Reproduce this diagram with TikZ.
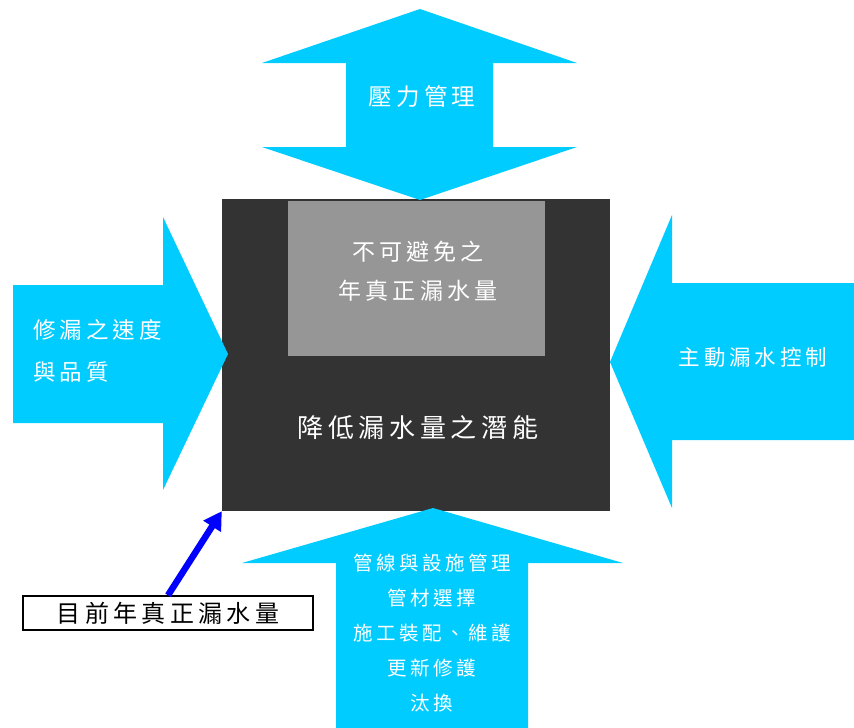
\documentclass[tikz,border=0pt]{standalone}
\usepackage{fontspec}
\newfontfamily\cjk[LetterSpace=18]{Noto Sans CJK TC}
\usetikzlibrary{arrows.meta}
\definecolor{arrowcyan}{HTML}{00CCFF}
\definecolor{darkbox}{HTML}{333333}
\definecolor{graybox}{HTML}{969696}
\tikzset{
  bigarrow/.style={fill=arrowcyan},
  wlabel/.style={text=white, inner sep=0pt, align=center},
}
\begin{document}
\begin{tikzpicture}[x=1pt,y=-1pt]
\useasboundingbox (0,0) rectangle (854,728);
% main dark box
\node[fill=darkbox, minimum width=388pt, minimum height=312pt, inner sep=0pt] (main) at (416,355) {};
\node[fill=graybox, minimum width=257pt, minimum height=155pt, inner sep=0pt] (inev) at (416.5,278.5) {};
\node[wlabel, font={\cjk\fontsize{23}{39}\selectfont}] (inevtext) at (418,271) {不可避免之\\年真正漏水量};
\node[wlabel, font={\cjk\fontsize{26}{30}\selectfont}] (potential) at (418,428) {降低漏水量之潛能};
% top double arrow
\fill[bigarrow] (420,9) -- (577,63) -- (493,63) -- (493,147) -- (577,147) -- (420,200) -- (262,147) -- (346,147) -- (346,63) -- (262,63) -- cycle;
\node[wlabel, font={\cjk\fontsize{23.5}{28}\selectfont}] (pressure) at (422,97) {壓力管理};
% left arrow
\fill[bigarrow] (13,285) -- (163,285) -- (163,217) -- (228,354) -- (163,490) -- (163,423) -- (13,423) -- cycle;
\node[wlabel, align=left, anchor=west, font={\cjk\fontsize{22.5}{42}\selectfont}] (repair) at (33,351) {修漏之速度\\與品質};
% right arrow
\fill[bigarrow] (854,283) -- (672,283) -- (672,215) -- (610,362) -- (672,508) -- (672,440) -- (854,440) -- cycle;
\node[wlabel, font={\cjk\fontsize{21.5}{28}\selectfont}] (active) at (753,357) {主動漏水控制};
% bottom arrow
\fill[bigarrow] (336,728) -- (336,563) -- (242,563) -- (433,508) -- (623,563) -- (528,563) -- (528,728) -- cycle;
\node[wlabel, font={\cjk\fontsize{19.5}{35}\selectfont}] (pipes) at (432,633) {管線與設施管理\\管材選擇\\施工裝配、維護\\更新修護\\汰換};
% current leakage box
\node[draw=black, line width=1.5pt, fill=white, minimum width=290pt, minimum height=34pt, inner sep=0pt, font={\cjk\fontsize{24}{28}\selectfont}] (current) at (168,613) {目前年真正漏水量};
\draw[blue, line width=6.5pt, -{Triangle[length=18pt,width=20pt]}] (current.north) -- (main.south west);
\end{tikzpicture}
\end{document}
